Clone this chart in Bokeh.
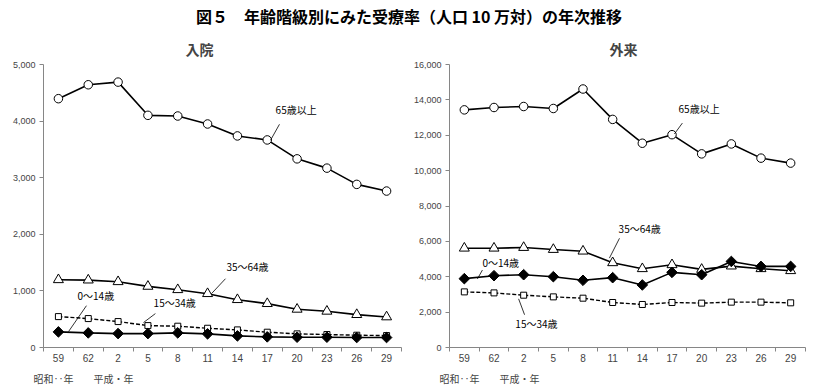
from bokeh.plotting import figure
from bokeh.models import Range1d, FixedTicker, NumeralTickFormatter, Label, Title, Div
from bokeh.layouts import column, row
from bokeh.embed import file_html
from bokeh.resources import INLINE
import numpy as np

# ---- data ----
years = ["59", "62", "2", "5", "8", "11", "14", "17", "20", "23", "26", "29"]

in_0_14 = [276, 258, 246, 246, 258, 241, 205, 188, 182, 182, 176, 176]
in_15_34 = [546, 511, 458, 387, 376, 340, 311, 270, 241, 229, 217, 211]
in_35_64 = [1197, 1191, 1162, 1080, 1021, 951, 845, 775, 675, 640, 581, 540]
in_65 = [4396, 4642, 4689, 4102, 4090, 3949, 3738, 3667, 3333, 3169, 2882, 2764]

out_0_14 = [3892, 4060, 4116, 4004, 3799, 3948, 3537, 4247, 4116, 4865, 4584, 4584]
out_15_34 = [3144, 3088, 2957, 2863, 2788, 2545, 2432, 2545, 2508, 2564, 2564, 2526]
out_35_64 = [5614, 5614, 5652, 5540, 5446, 4790, 4453, 4677, 4415, 4603, 4453, 4341]
out_65 = [13435, 13569, 13625, 13513, 14614, 12896, 11548, 12031, 10947, 11509, 10706, 10425]

label_65 = "65歳以上"
label_35 = "35～64歳"
label_15 = "15～34歳"
label_0 = "0～14歳"

JP = "Noto Sans CJK JP"
NUM = "Liberation Sans"
AXIS_C = "#868686"

n = len(years)
xs = [i + 0.5 for i in range(n)]


def make_panel(title, title_offset, ymax, ystep, s0, s15, s35, s65, notes, width, bl, br):
    p = figure(width=width, height=359, x_range=Range1d(0, n), y_range=Range1d(0, ymax),
               output_backend="svg", toolbar_location=None,
               min_border_left=bl, min_border_right=br, min_border_top=33, min_border_bottom=42)
    p.outline_line_color = None
    p.grid.visible = False
    p.background_fill_color = "white"
    p.border_fill_color = "white"

    p.title.text = title
    p.title.align = "left"
    p.title.offset = title_offset
    p.title.text_font = JP
    p.title.text_font_size = "14px"
    p.title.text_font_style = "bold"
    p.title.standoff = 12

    # x axis
    xa = p.xaxis[0]
    xa.ticker = FixedTicker(ticks=xs, minor_ticks=list(range(n + 1)))
    xa.major_label_overrides = {x: y for x, y in zip(xs, years)}
    xa.major_tick_out = 0
    xa.major_tick_in = 0
    xa.minor_tick_out = 4
    xa.minor_tick_in = 0
    xa.minor_tick_line_color = AXIS_C
    xa.axis_line_color = AXIS_C
    xa.major_label_text_font = NUM
    xa.major_label_text_font_size = "10px"
    xa.major_label_standoff = 2

    ya = p.yaxis[0]
    ya.ticker = FixedTicker(ticks=list(range(0, ymax + 1, ystep)))
    ya.formatter = NumeralTickFormatter(format="0,0")
    ya.major_tick_out = 4
    ya.major_tick_in = 0
    ya.minor_tick_out = 0
    ya.minor_tick_in = 0
    ya.axis_line_color = AXIS_C
    ya.major_tick_line_color = AXIS_C
    ya.major_label_text_font = NUM
    ya.major_label_text_font_size = "9px"
    ya.major_label_standoff = 4

    # series
    p.line(xs, s65, line_color="black", line_width=1.6)
    p.line(xs, s35, line_color="black", line_width=1.6)
    p.line(xs, s15, line_color="black", line_width=1.4, line_dash="4 2")
    p.line(xs, s0, line_color="black", line_width=1.6)
    p.scatter(xs, s65, marker="circle", size=8.5, fill_color="white", line_color="black", line_width=1)
    p.scatter(xs, s35, marker="triangle", size=10, fill_color="white", line_color="black", line_width=1)
    p.scatter(xs, s15, marker="square", size=6, fill_color="white", line_color="black", line_width=1)
    p.scatter(xs, s0, marker="square", size=7.5, angle=np.pi / 4, fill_color="black", line_color="black")

    # annotations with leader lines
    for (tx, ty, txt, x0, y0, x1, y1) in notes:
        p.add_layout(Label(x=tx, y=ty, text=txt, text_font=JP, text_font_size="10px",
                           text_baseline="middle", text_align="left", text_color="black"))
        p.segment(x0=[x0], y0=[y0], x1=[x1], y1=[y1], line_color="black", line_width=0.8)

    p.add_layout(Title(text="昭和‥年　　平成・年", align="left", offset=-10, text_font=JP,
                       text_font_size="10px", text_font_style="normal", standoff=8), "below")
    return p


notes_in = [
    (7.78, 4208, label_65, 7.91, 3944, 7.61, 3662),
    (6.13, 1426, label_35, 6.10, 1215, 5.63, 951),
    (1.14, 915, label_0, 1.44, 739, 0.84, 282),
    (3.69, 792, label_15, 3.75, 599, 3.35, 440),
]
notes_out = [
    (7.72, 13530, label_65, 7.85, 12688, 7.58, 12070),
    (5.70, 6737, label_35, 5.73, 6175, 5.39, 5053),
    (1.11, 4828, label_0, 1.11, 4379, 0.94, 3874),
    (2.22, 1347, label_15, 2.53, 1853, 2.33, 2751),
]

p1 = make_panel("入院", 142, 5000, 1000, in_0_14, in_15_34, in_35_64, in_65, notes_in, 407, 43, 6)
p2 = make_panel("外来", 160, 16000, 2000, out_0_14, out_15_34, out_35_64, out_65, notes_out, 411, 42, 13)

head = Div(text="図５　年齢階級別にみた受療率（人口 10 万対）の年次推移", width=818, height=22, margin=(8, 0, 0, 0),
           styles={"font-family": JP, "font-size": "16px", "font-weight": "bold",
                   "text-align": "center", "width": "818px", "line-height": "16px", "color": "black"})

layout = column(head, row(p1, p2))
open("out.html", "w").write(file_html(layout, INLINE))
